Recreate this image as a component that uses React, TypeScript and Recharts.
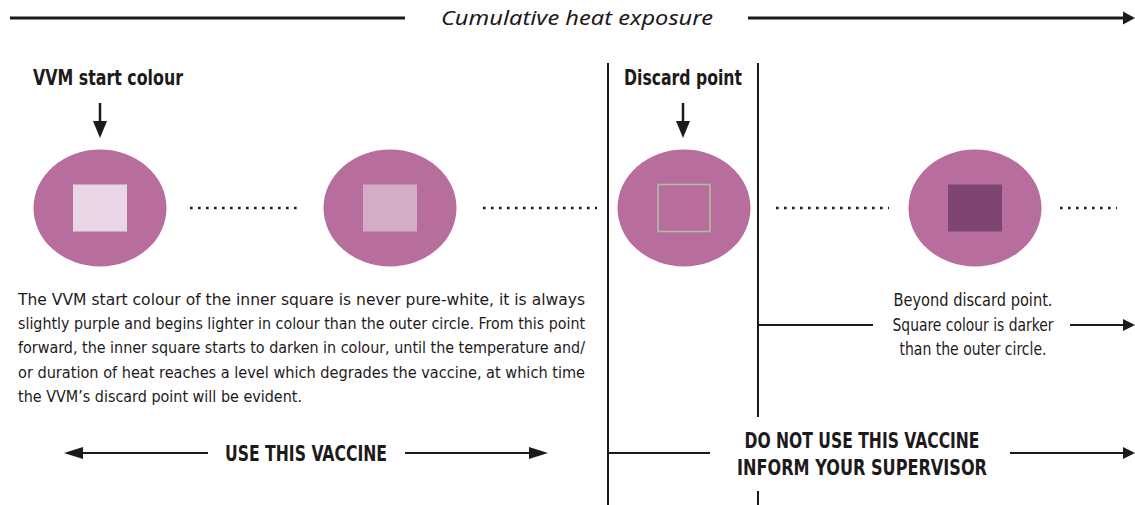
import React from 'react';
import { ScatterChart, Scatter, XAxis, YAxis, ReferenceLine } from 'recharts';

// ---------- data ----------
// VVM stages along the cumulative heat exposure axis
const stageNames = ['Start', 'Darkening', 'Discard point', 'Beyond discard'];
const stagePos = [100, 390, 684, 975];
const stageLevel = [208, 208, 208, 208];
const squareFill = ['#E9D7E7', '#D5ACC8', '#B76E9C', '#7E4472'];
const squareStroke = ['none', 'none', '#B3BC9F', 'none'];

// dotted transitions between stages
const dotFrom = [190, 483, 776, 1060];
const dotTo = [302, 597, 889, 1117];

// texts
const titleText = 'Cumulative heat exposure';
const headingLabels = ['VVM start colour', 'Discard point'];
const paragraphLines = [
  'The VVM start colour of the inner square is never pure-white, it is always',
  'slightly purple and begins lighter in colour than the outer circle. From this point',
  'forward, the inner square starts to darken in colour, until the temperature and/',
  'or duration of heat reaches a level which degrades the vaccine, at which time',
  'the VVM\u2019s discard point will be evident.',
];
const beyondLines = ['Beyond discard point.', 'Square colour is darker', 'than the outer circle.'];
const useLabel = 'USE THIS VACCINE';
const doNotUseLines = ['DO NOT USE THIS VACCINE', 'INFORM YOUR SUPERVISOR'];

// ---------- layout ----------
const W = 1135;
const H = 505;
const INK = '#1E1A1B';
const CIRCLE = '#B76E9C';
const FONT = "'Liberation Sans Narrow', 'DejaVu Sans Condensed', 'Noto Sans', sans-serif";
const FONT_IT = "'Noto Sans', 'Open Sans', sans-serif";

type Seg = { x1: number; y1: number; x2: number; y2: number; head: 'none' | 'start' | 'end'; w: number; hl: number; hh: number };
const segments: Seg[] = [
  { x1: 10, y1: 18, x2: 405, y2: 18, head: 'none', w: 3, hl: 0, hh: 0 },
  { x1: 748, y1: 18, x2: 1135, y2: 18, head: 'end', w: 3, hl: 12, hh: 6.5 },
  { x1: 100, y1: 103, x2: 100, y2: 138, head: 'end', w: 2.5, hl: 17, hh: 7 },
  { x1: 683, y1: 103, x2: 683, y2: 138, head: 'end', w: 2.5, hl: 17, hh: 7 },
  { x1: 608, y1: 63, x2: 608, y2: 505, head: 'none', w: 2, hl: 0, hh: 0 },
  { x1: 758, y1: 63, x2: 758, y2: 417, head: 'none', w: 2, hl: 0, hh: 0 },
  { x1: 758, y1: 491, x2: 758, y2: 505, head: 'none', w: 2, hl: 0, hh: 0 },
  { x1: 758, y1: 325, x2: 873, y2: 325, head: 'none', w: 2, hl: 0, hh: 0 },
  { x1: 1070, y1: 325, x2: 1135, y2: 325, head: 'end', w: 2, hl: 12, hh: 6 },
  { x1: 608, y1: 453, x2: 710, y2: 453, head: 'none', w: 2, hl: 0, hh: 0 },
  { x1: 1010, y1: 453, x2: 1135, y2: 453, head: 'end', w: 2, hl: 12, hh: 6 },
  { x1: 64, y1: 453, x2: 208, y2: 453, head: 'start', w: 2, hl: 19, hh: 6 },
  { x1: 405, y1: 453, x2: 548, y2: 453, head: 'end', w: 2, hl: 19, hh: 6 },
];

type TextItem = { x: number; y: number; text: string; size: number; weight: number; italic: boolean; anchor: 'start' | 'middle'; len: number; family: string };

const textItems: TextItem[] = [
  { x: 577, y: 18, text: titleText, size: 20, weight: 400, italic: true, anchor: 'middle', len: 272, family: FONT_IT },
  { x: 108, y: 77, text: headingLabels[0], size: 22, weight: 700, italic: false, anchor: 'middle', len: 150, family: FONT },
  { x: 683, y: 77, text: headingLabels[1], size: 22, weight: 700, italic: false, anchor: 'middle', len: 118, family: FONT },
  ...paragraphLines.map((t, i) => ({
    x: 18, y: 299 + i * 24.3, text: t, size: 16, weight: 400, italic: false, anchor: 'start' as const,
    len: i === paragraphLines.length - 1 ? 284 : 567, family: FONT,
  })),
  ...beyondLines.map((t, i) => ({
    x: 973, y: 300 + i * 24.5, text: t, size: 17, weight: 400, italic: false, anchor: 'middle' as const,
    len: [159, 161, 147][i], family: FONT,
  })),
  { x: 306, y: 453, text: useLabel, size: 21, weight: 700, italic: false, anchor: 'middle', len: 162, family: FONT },
  ...doNotUseLines.map((t, i) => ({
    x: 862, y: 440 + i * 27, text: t, size: 21, weight: 700, italic: false, anchor: 'middle' as const,
    len: [235, 250][i], family: FONT,
  })),
];

const stageData = stageNames.map((name, i) => ({
  name, x: stagePos[i], y: stageLevel[i], fill: squareFill[i], stroke: squareStroke[i],
}));

// ---------- shapes ----------
const VvmShape = (props: any) => {
  const { cx, cy, payload } = props;
  const rx = 66.5;
  const ry = 58.5;
  const sw = 54;
  const sh = 47;
  const outline = payload.stroke !== 'none';
  return (
    <g>
      <ellipse cx={cx} cy={cy} rx={rx} ry={ry} fill={CIRCLE} />
      <rect
        x={cx - (outline ? sw - 2 : sw) / 2}
        y={cy - sh / 2}
        width={outline ? sw - 2 : sw}
        height={sh}
        fill={payload.fill}
        stroke={payload.stroke}
        strokeWidth={outline ? 1.6 : 0}
      />
    </g>
  );
};

const TextShape = (props: any) => {
  const { cx, cy, payload } = props;
  const t: TextItem = payload;
  return (
    <text
      x={cx}
      y={cy + t.size * 0.36}
      fontSize={t.size}
      fontWeight={t.weight}
      fontStyle={t.italic ? 'italic' : 'normal'}
      fontFamily={t.family}
      textAnchor={t.anchor}
      textLength={t.len}
      lengthAdjust="spacingAndGlyphs"
      fill={INK}
    >
      {t.text}
    </text>
  );
};

const makeArrow = (s: Seg) => (p: any) => {
  const { x1, y1, x2, y2 } = p;
  const dx = x2 - x1;
  const dy = y2 - y1;
  const L = Math.hypot(dx, dy) || 1;
  const ux = dx / L;
  const uy = dy / L;
  let ax = x1, ay = y1, bx = x2, by = y2;
  const heads: React.ReactNode[] = [];
  if (s.head === 'end') {
    bx = x2 - ux * (s.hl - 2);
    by = y2 - uy * (s.hl - 2);
    const baseX = x2 - ux * s.hl;
    const baseY = y2 - uy * s.hl;
    heads.push(
      <polygon key="e" fill={INK}
        points={`${x2},${y2} ${baseX - uy * s.hh},${baseY + ux * s.hh} ${baseX + uy * s.hh},${baseY - ux * s.hh}`} />
    );
  }
  if (s.head === 'start') {
    ax = x1 + ux * (s.hl - 2);
    ay = y1 + uy * (s.hl - 2);
    const baseX = x1 + ux * s.hl;
    const baseY = y1 + uy * s.hl;
    heads.push(
      <polygon key="s" fill={INK}
        points={`${x1},${y1} ${baseX - uy * s.hh},${baseY + ux * s.hh} ${baseX + uy * s.hh},${baseY - ux * s.hh}`} />
    );
  }
  return (
    <g>
      <line x1={ax} y1={ay} x2={bx} y2={by} stroke={INK} strokeWidth={s.w} />
      {heads}
    </g>
  );
};

export default function App() {
  return (
    <div style={{ position: 'absolute', left: 0, top: 0, background: '#fff' }}>
      <ScatterChart width={W} height={H} margin={{ top: 0, right: 0, bottom: 0, left: 0 }}>
        <XAxis type="number" dataKey="x" domain={[0, W]} hide allowDataOverflow />
        <YAxis type="number" dataKey="y" domain={[0, H]} reversed hide allowDataOverflow />

        {dotFrom.map((from, i) => (
          <ReferenceLine
            key={`dot-${i}`}
            segment={[{ x: from, y: stageLevel[i] }, { x: dotTo[i], y: stageLevel[i] }]}
            stroke={INK}
            strokeWidth={2.6}
            strokeDasharray="2.6 5.4"
            ifOverflow="visible"
          />
        ))}

        {segments.map((s, i) => (
          <ReferenceLine
            key={`seg-${i}`}
            segment={[{ x: s.x1, y: s.y1 }, { x: s.x2, y: s.y2 }]}
            stroke={INK}
            strokeWidth={s.w}
            ifOverflow="visible"
            shape={makeArrow(s)}
          />
        ))}

        <Scatter data={stageData} shape={VvmShape} isAnimationActive={false} />
        <Scatter data={textItems} shape={TextShape} isAnimationActive={false} />
      </ScatterChart>
    </div>
  );
}
